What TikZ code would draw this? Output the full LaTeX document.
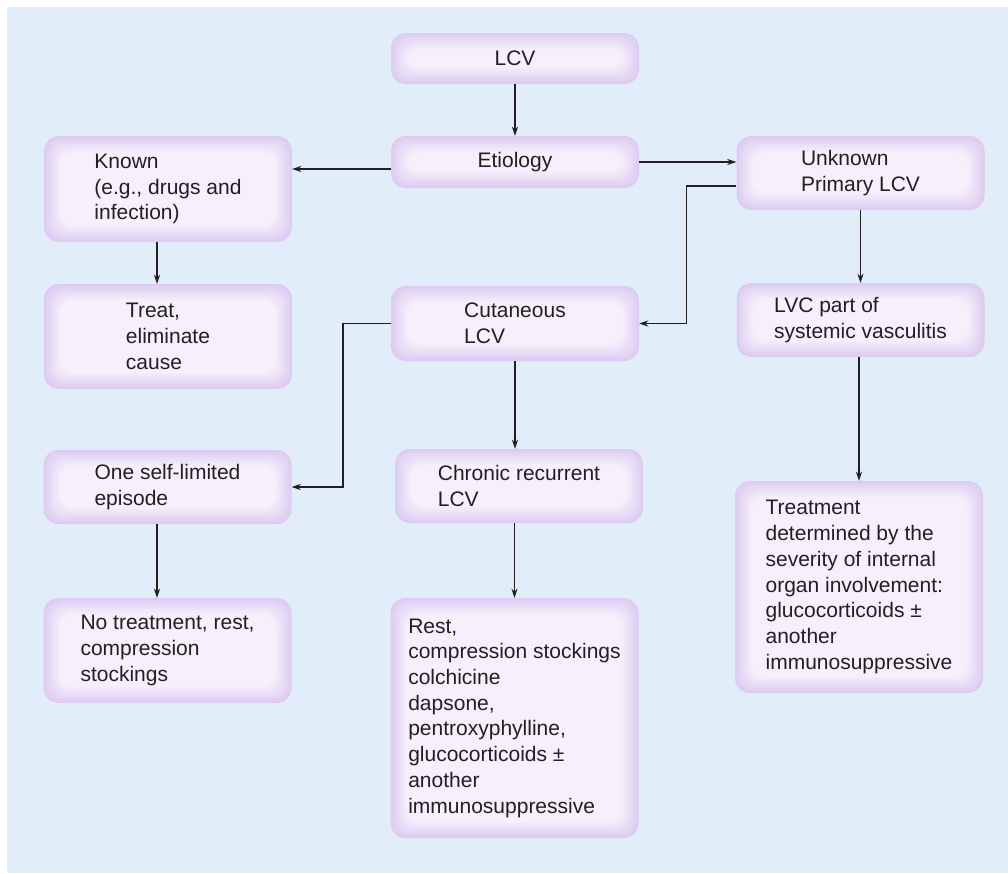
\documentclass[tikz,border=0pt]{standalone}
\usepackage{fontspec}
\setmainfont{Liberation Sans}
\usetikzlibrary{arrows.meta}

\definecolor{bgblue}{RGB}{225,237,249}
\definecolor{boxin}{RGB}{245,240,251}
\definecolor{boxout}{RGB}{221,203,241}
\definecolor{ink}{RGB}{35,31,32}
\newcommand{\boxfont}{\fontsize{21}{25.7}\selectfont}

\tikzset{
  box/.style={rounded corners=15pt, fill=boxout, text=ink, align=left,
    font=\boxfont, inner sep=0pt, minimum width=248pt,
    path picture={
      \foreach \k [evaluate=\k as \p using int(10*\k)] in {1,...,10}
        \fill[boxin!\p!boxout, rounded corners=14pt]
          ([shift={(\k*1.6pt,\k*1.6pt)}]path picture bounding box.south west) rectangle
          ([shift={(-\k*1.6pt,-\k*1.6pt)}]path picture bounding box.north east);
    }},
  arr/.style={-{Stealth[length=9pt,width=6pt]}, line width=1.6pt, draw=ink}
}

\begin{document}
\begin{tikzpicture}[x=1pt,y=-1pt]
  \useasboundingbox (0,0) rectangle (1008,873);
  \fill[white] (0,0) rectangle (1008,873);
  \fill[bgblue] (7,7) rectangle (1008,873);

  % middle column
  \node[box, minimum height=51pt] (lcv) at (515,58.5) {LCV};
  \node[box, minimum height=52pt] (etio) at (515,162) {Etiology};
  \node[box, minimum height=75pt] (cut) at (515,323.5) {Cutaneous\\LCV};
  \node[box, minimum height=74pt] (chron) at (519,486) {Chronic recurrent\\LCV};
  \node[box, minimum height=240pt] (rest) at (514.5,718) {Rest,\\compression stockings\\colchicine\\dapsone,\\pentroxyphylline,\\glucocorticoids ±\\another\\immunosuppressive};

  % left column
  \node[box, minimum height=106pt] (known) at (168,189) {Known\\(e.g., drugs and\\infection)};
  \node[box, minimum height=105pt] (treat) at (168,336.5) {Treat,\\eliminate\\cause};
  \node[box, minimum height=74pt] (one) at (167.5,487) {One self-limited\\episode};
  \node[box, minimum height=105pt] (notreat) at (167.5,650.5) {No treatment, rest,\\compression\\stockings};

  % right column
  \node[box, minimum height=74pt] (unkn) at (860.5,173) {Unknown\\Primary LCV};
  \node[box, minimum height=74pt] (lvc) at (860.5,320) {LVC part of\\systemic vasculitis};
  \node[box, minimum height=212pt] (treatm) at (859,587) {Treatment\\determined by the\\severity of internal\\organ involvement:\\glucocorticoids ±\\another\\immunosuppressive};

  \draw[arr] (lcv) -- (etio);
  \draw[arr] ([yshift=-7pt]etio.west) coordinate (e1) -- (e1 -| known.east);
  \draw[arr] (etio.east) -- (etio.east -| unkn.west);
  \draw[arr] ([yshift=-13pt]unkn.west) -- ++(-50,0) |- (cut.east);
  \draw[arr] (unkn) -- (lvc);
  \draw[arr] (cut.west) -- ++(-48,0) |- (one.east);
  \draw[arr] (cut.south) -- (cut.south |- chron.north);
  \draw[arr] ([xshift=-11pt]known.south) coordinate (k1) -- (k1 |- treat.north);
  \draw[arr] ([xshift=-10.5pt]one.south) coordinate (o1) -- (o1 |- notreat.north);
  \draw[arr] (rest.north |- chron.south) -- (rest.north);
  \draw[arr] (treatm.north |- lvc.south) -- (treatm.north);
\end{tikzpicture}
\end{document}
